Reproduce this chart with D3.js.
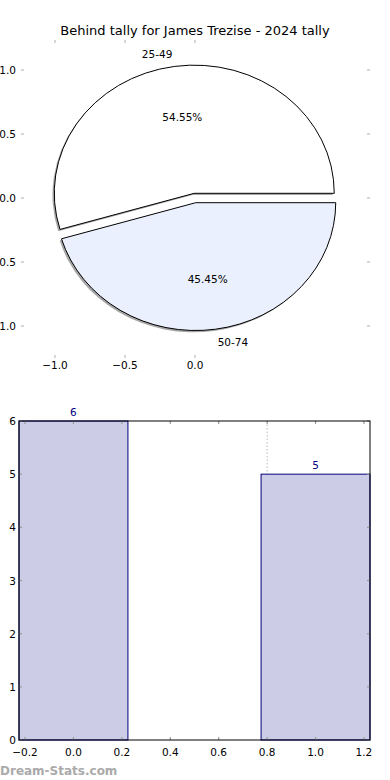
<!DOCTYPE html>
<html>
<head>
<meta charset="utf-8">
<script src="https://cdn.jsdelivr.net/npm/d3@7"></script>
<style>
  body { margin: 0; background: #fff; }
  svg { display: block; font-family: "DejaVu Sans", sans-serif; }
</style>
</head>
<body>
<svg id="chart" width="390" height="780"></svg>
<script>
// chart data
var chartTitle = "Behind tally for James Trezise - 2024 tally";
var pieLabels = ["25-49", "50-74"];
var pieValues = [6, 5];
var pieColors = ["#ffffff", "#eaf0fd"];
var pieTicksX = [-1, -0.5, 0];
var pieTicksY = [1, 0.5, 0, -0.5, -1];

var barCategories = [0, 1];
var barValues = [6, 5];
var barTicksX = [-0.2, 0, 0.2, 0.4, 0.6, 0.8, 1.0, 1.2];
var barTicksY = [0, 1, 2, 3, 4, 5, 6];
var markerX = 0.8;

(function(d3) {
    var svg = d3.select("#chart");
    var fmt = d3.format(".1f");
    var tickCol = "#bbbbbb";

    // ---- pie ----
    var px = d3.scaleLinear().domain([-1, 1]).range([55, 335]);
    var py = d3.scaleLinear().domain([1, -1]).range([70, 326]);
    var rx = px(1) - px(0), ry = py(-1) - py(0);
    var box = {l: 21, r: 370, t: 40, b: 355};

    svg.append("text").attr("x", 195).attr("y", 35)
        .attr("text-anchor", "middle").attr("font-size", 13).text(chartTitle);

    var axG = svg.append("g");
    axG.selectAll(".ptx").data(pieTicksX).enter().append("g").each(function(d) {
        var g = d3.select(this);
        g.append("line").attr("x1", px(d)).attr("x2", px(d)).attr("y1", box.t).attr("y2", box.t + 3)
            .attr("stroke", tickCol).attr("stroke-width", 1.2);
        g.append("line").attr("x1", px(d)).attr("x2", px(d)).attr("y1", box.b).attr("y2", box.b + 3)
            .attr("stroke", tickCol).attr("stroke-width", 1.2);
        g.append("text").attr("x", px(d)).attr("y", box.b + 14).attr("text-anchor", "middle")
            .attr("font-size", 10.5).text(fmt(d));
    });
    axG.selectAll(".pty").data(pieTicksY).enter().append("g").each(function(d) {
        var g = d3.select(this);
        g.append("line").attr("x1", box.l).attr("x2", box.l + 3).attr("y1", py(d)).attr("y2", py(d))
            .attr("stroke", tickCol).attr("stroke-width", 1.2);
        g.append("line").attr("x1", box.r - 3).attr("x2", box.r).attr("y1", py(d)).attr("y2", py(d))
            .attr("stroke", tickCol).attr("stroke-width", 1.2);
        g.append("text").attr("x", 16).attr("y", py(d) + 4).attr("text-anchor", "end")
            .attr("font-size", 10.5).text(fmt(d));
    });

    var total = d3.sum(pieValues);
    var pie = d3.pie().sort(null).startAngle(Math.PI / 2).endAngle(Math.PI / 2 - 2 * Math.PI);
    var arcs = pie(pieValues);
    var arc = d3.arc().innerRadius(0).outerRadius(1);
    var explode = 0.037;

    var slices = svg.append("g").selectAll("g.slice").data(arcs).enter().append("g").attr("class", "slice")
        .each(function(d, i) {
            var mid = (d.startAngle + d.endAngle) / 2;
            var ux = Math.sin(mid), uy = -Math.cos(mid);
            var cx = px(0) + explode * ux * rx, cy = py(0) + explode * uy * ry;
            d.cx = cx; d.cy = cy; d.ux = ux; d.uy = uy;
            var g = d3.select(this);
            g.append("path").attr("d", arc(d))
                .attr("transform", "translate(" + (cx - 1.8) + "," + (cy + 1.8) + ") scale(" + rx + "," + ry + ")")
                .attr("fill", "#4d4d4d").attr("opacity", 0.5).attr("stroke", "none");
        });
    slices.each(function(d, i) {
        d3.select(this).append("path").attr("d", arc(d))
            .attr("transform", "translate(" + d.cx + "," + d.cy + ") scale(" + rx + "," + ry + ")")
            .attr("fill", pieColors[i]).attr("stroke", "#000").attr("stroke-width", 1)
            .attr("vector-effect", "non-scaling-stroke").attr("stroke-linejoin", "miter");
    });
    slices.each(function(d, i) {
        var g = d3.select(this);
        g.append("text").attr("x", d.cx + 1.1 * d.ux * rx).attr("y", d.cy + 1.1 * d.uy * ry + 4)
            .attr("text-anchor", d.ux < 0 ? "end" : "start").attr("font-size", 10.5).text(pieLabels[i]);
        g.append("text").attr("x", d.cx + 0.6 * d.ux * rx).attr("y", d.cy + 0.6 * d.uy * ry + 4)
            .attr("text-anchor", "middle").attr("font-size", 10.5)
            .text((d.value / total * 100).toFixed(2) + "%");
    });

    // ---- bars ----
    var bx = d3.scaleLinear().domain([-0.225, 1.225]).range([19, 370]);
    var by = d3.scaleLinear().domain([0, 6]).range([740, 421]);
    var barW = 0.45;
    var bg = svg.append("g");

    bg.append("line").attr("x1", bx(markerX)).attr("x2", bx(markerX)).attr("y1", by(6)).attr("y2", by(0))
        .attr("stroke", "#bbbbbb").attr("stroke-width", 1).attr("stroke-dasharray", "1.5,2");

    bg.selectAll("rect.bar").data(barValues).enter().append("rect").attr("class", "bar")
        .attr("x", function(d, i) { return bx(barCategories[i] - barW / 2); })
        .attr("width", function(d, i) { return bx(barCategories[i] + barW / 2) - bx(barCategories[i] - barW / 2); })
        .attr("y", function(d) { return by(d); })
        .attr("height", function(d) { return by(0) - by(d); })
        .attr("fill", "#ccccE6").attr("stroke", "#00007f").attr("stroke-width", 1);

    bg.selectAll("text.val").data(barValues).enter().append("text").attr("class", "val")
        .attr("x", function(d, i) { return bx(barCategories[i]); })
        .attr("y", function(d) { return by(d) - 5; })
        .attr("text-anchor", "middle").attr("font-size", 10.5).attr("fill", "#00007f")
        .text(function(d) { return d; });

    barTicksX.forEach(function(d) {
        bg.append("line").attr("x1", bx(d)).attr("x2", bx(d)).attr("y1", by(0)).attr("y2", by(0) - 3)
            .attr("stroke", "#999").attr("stroke-width", 1.2);
        bg.append("line").attr("x1", bx(d)).attr("x2", bx(d)).attr("y1", by(6)).attr("y2", by(6) + 3)
            .attr("stroke", "#999").attr("stroke-width", 1.2);
        bg.append("text").attr("x", bx(d)).attr("y", by(0) + 16).attr("text-anchor", "middle")
            .attr("font-size", 10.5).text(fmt(d));
    });
    barTicksY.forEach(function(d) {
        bg.append("line").attr("x1", bx(-0.225)).attr("x2", bx(-0.225) + 3).attr("y1", by(d)).attr("y2", by(d))
            .attr("stroke", "#999").attr("stroke-width", 1.2);
        bg.append("line").attr("x1", bx(1.225) - 3).attr("x2", bx(1.225)).attr("y1", by(d)).attr("y2", by(d))
            .attr("stroke", "#999").attr("stroke-width", 1.2);
        bg.append("text").attr("x", 16).attr("y", by(d) + 4).attr("text-anchor", "end")
            .attr("font-size", 10.5).text(d);
    });

    bg.append("rect").attr("x", bx(-0.225)).attr("y", by(6))
        .attr("width", bx(1.225) - bx(-0.225)).attr("height", by(0) - by(6))
        .attr("fill", "none").attr("stroke", "#000").attr("stroke-width", 1);

    svg.append("text").attr("x", 0).attr("y", 775).attr("font-size", 12).attr("font-weight", "bold")
        .attr("fill", "#aaaaaa").text("Dream-Stats.com");
})(d3);
</script>
</body>
</html>
